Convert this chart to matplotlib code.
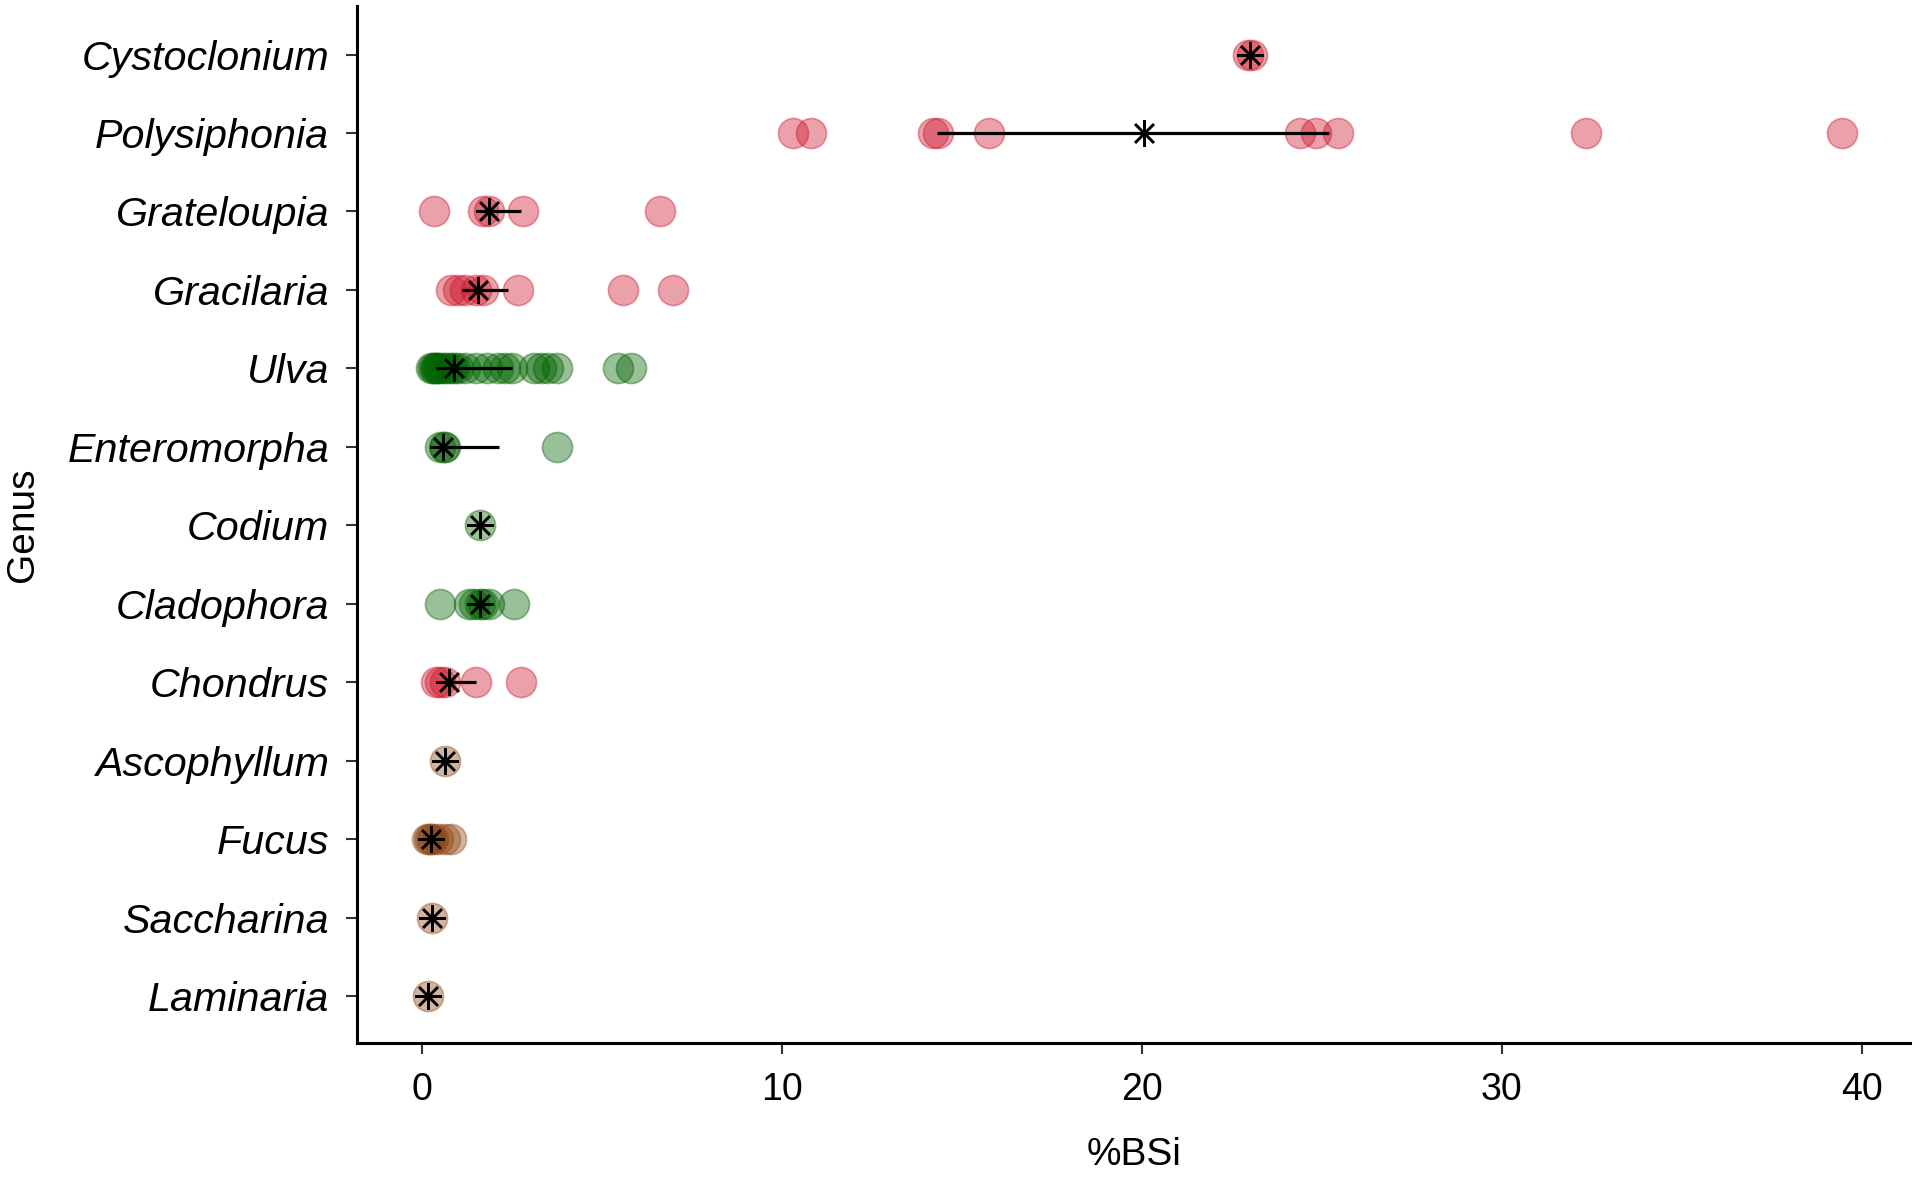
import numpy as np
import matplotlib
matplotlib.use("Agg")
import matplotlib.pyplot as plt

plt.rcParams['font.family'] = ['Liberation Sans', 'DejaVu Sans']

# ------------------ datos ------------------
genus = ["Laminaria", "Saccharina", "Fucus", "Ascophyllum", "Chondrus",
         "Cladophora", "Codium", "Enteromorpha", "Ulva", "Gracilaria",
         "Grateloupia", "Polysiphonia", "Cystoclonium"]

grupo = ["brown", "brown", "brown", "brown", "red",
         "green", "green", "green", "green", "red",
         "red", "red", "red"]

bsi_laminaria = [0.16]
bsi_saccharina = [0.28]
bsi_fucus = [0.15, 0.2, 0.25, 0.3, 0.45, 0.65, 0.8]
bsi_ascophyllum = [0.65]
bsi_chondrus = [0.4, 0.5, 0.65, 1.5, 2.75]
bsi_cladophora = [0.5, 1.3, 1.45, 1.6, 1.7, 1.85, 2.57]
bsi_codium = [1.62]
bsi_enteromorpha = [0.5, 0.6, 0.65, 3.75]
bsi_ulva = [0.25, 0.3, 0.35, 0.4, 0.45, 0.5, 0.6, 0.7, 0.8, 0.9, 1.0, 1.2,
            1.5, 1.8, 2.1, 2.3, 2.5, 3.1, 3.3, 3.5, 3.75, 5.45, 5.82]
bsi_gracilaria = [0.8, 1.0, 1.2, 1.5, 1.7, 2.66, 5.6, 6.97]
bsi_grateloupia = [0.33, 1.7, 1.85, 2.8, 6.62]
bsi_polysiphonia = [10.3, 10.8, 14.2, 14.35, 15.75, 24.4, 24.85, 25.45, 32.35, 39.45]
bsi_cystoclonium = [22.95, 23.05]

bsi = [bsi_laminaria, bsi_saccharina, bsi_fucus, bsi_ascophyllum, bsi_chondrus,
       bsi_cladophora, bsi_codium, bsi_enteromorpha, bsi_ulva, bsi_gracilaria,
       bsi_grateloupia, bsi_polysiphonia, bsi_cystoclonium]

# mediana y rango (barra)
centro = [0.16, 0.28, 0.24, 0.65, 0.76, 1.6, 1.62, 0.58, 0.9, 1.55, 1.86, 20.05, 23.0]
bajo = [0.16, 0.28, 0.2, 0.65, 0.5, 1.45, 1.62, 0.55, 0.4, 1.1, 1.7, 14.3, 23.0]
alto = [0.16, 0.28, 0.3, 0.65, 1.5, 1.75, 1.62, 2.15, 2.5, 2.4, 2.75, 25.2, 23.0]

xticks = [0, 10, 20, 30, 40]

colores = {"red": (0.80, 0.08, 0.16), "green": (0.0, 0.39, 0.0),
           "brown": (0.55, 0.27, 0.07)}

# ------------------ grafica ------------------
fig = plt.figure(figsize=(19.2, 11.79), dpi=100)
ax = fig.add_axes([0.186, 0.1153, 0.809, 0.8797])

for i, vals in enumerate(bsi):
    ax.scatter(vals, np.full(len(vals), i), s=470, color=colores[grupo[i]],
               alpha=0.4, linewidths=1.2, zorder=2)
    ax.plot([bajo[i], alto[i]], [i, i], color='black', lw=2.3, zorder=3,
            solid_capstyle='butt')
    ax.plot(centro[i], i, marker=(8, 2, 0), color='black', markersize=19,
            mew=1.8, zorder=4)

ax.set_xlim(-1.8, 41.35)
ax.set_ylim(-0.6, 12.62)
ax.set_yticks(range(len(genus)))
ax.set_yticklabels(genus, fontstyle='italic', fontsize=29.7)
ax.set_xticks(xticks)
ax.set_xticklabels([str(t) for t in xticks], fontsize=27)

ax.tick_params(axis='x', length=8, width=1.5, color='0.2', pad=13)
ax.tick_params(axis='y', length=8, width=1.5, color='0.2', pad=12)

ax.spines['top'].set_visible(False)
ax.spines['right'].set_visible(False)
ax.spines['left'].set_linewidth(2.2)
ax.spines['bottom'].set_linewidth(2.2)

ax.set_xlabel("%BSi", fontsize=28, labelpad=21)
ax.set_ylabel("Genus", fontsize=28, labelpad=19)

fig.savefig("out.png", dpi=100)
